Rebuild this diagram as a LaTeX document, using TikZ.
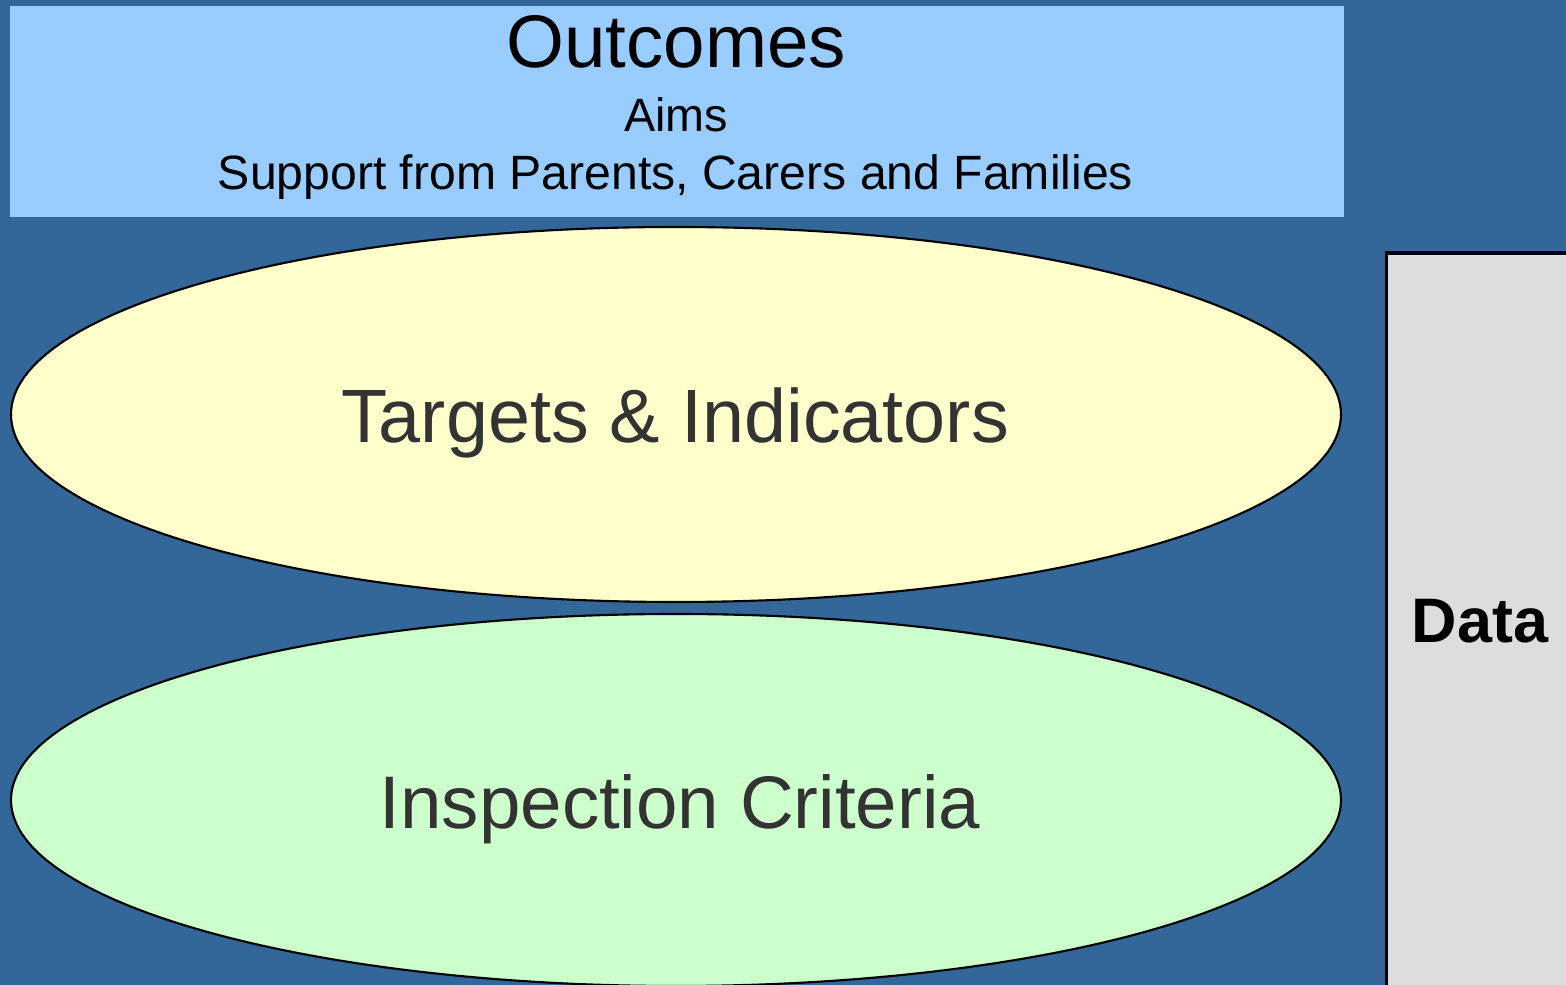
\documentclass[tikz,border=0pt]{standalone}
\usepackage{fontspec}
\setmainfont{Liberation Sans}
\usetikzlibrary{shapes.geometric}
\definecolor{bgblue}{HTML}{336699}
\definecolor{topblue}{HTML}{99CCFF}
\definecolor{ellyellow}{HTML}{FFFFCC}
\definecolor{ellgreen}{HTML}{CCFFCC}
\definecolor{datagray}{HTML}{DDDDDD}
\definecolor{txtgray}{HTML}{333333}
\tikzset{
  ovalbox/.style={ellipse, draw=black, line width=0.6pt, minimum width=13.3cm, minimum height=3.75cm, inner sep=0pt},
  bigtext/.style={font=\fontsize{21.2pt}{25pt}\selectfont, text=txtgray, anchor=base},
  smalltext/.style={font=\fontsize{13.3pt}{16pt}\selectfont, anchor=base},
}
\begin{document}
\begin{tikzpicture}
\useasboundingbox (0,0) rectangle (15.66,-9.85);
\fill[bgblue] (0,0) rectangle (15.66,-9.85);
\begin{scope}
\clip (0,0) rectangle (15.66,-9.85);
\node[draw=none, fill=topblue, minimum width=13.34cm, minimum height=2.11cm, inner sep=0pt, anchor=north west] (outbox) at (0.09,-0.05) {};
\node[ovalbox, fill=ellyellow] (targets) at (6.76,-4.145) {};
\node[ovalbox, fill=ellgreen, minimum height=3.72cm] (inspect) at (6.76,-8.0) {};
\node[draw=black, line width=0.9pt, fill=datagray, minimum width=2.2cm, minimum height=7.6cm, inner sep=0pt, anchor=north west] (databox) at (13.85,-2.515) {};
\end{scope}
\node[bigtext, text=black] (outcomes) at (6.76,-0.68) {Outcomes};
\node[smalltext] (aims) at (6.76,-1.32) {Aims};
\node[smalltext, font=\fontsize{13.7pt}{16pt}\selectfont] (support) at (6.755,-1.90) {Support from Parents, Carers and Families};
\node[bigtext, font=\fontsize{21.5pt}{25pt}\selectfont] (targetstxt) at (6.75,-4.43) {Targets \& Indicators};
\node[bigtext] (inspecttxt) at (6.80,-8.29) {Inspection Criteria};
\node[font=\fontsize{17.9pt}{21pt}\selectfont\bfseries, anchor=base] (datatxt) at (14.80,-6.43) {Data};
\end{tikzpicture}
\end{document}
